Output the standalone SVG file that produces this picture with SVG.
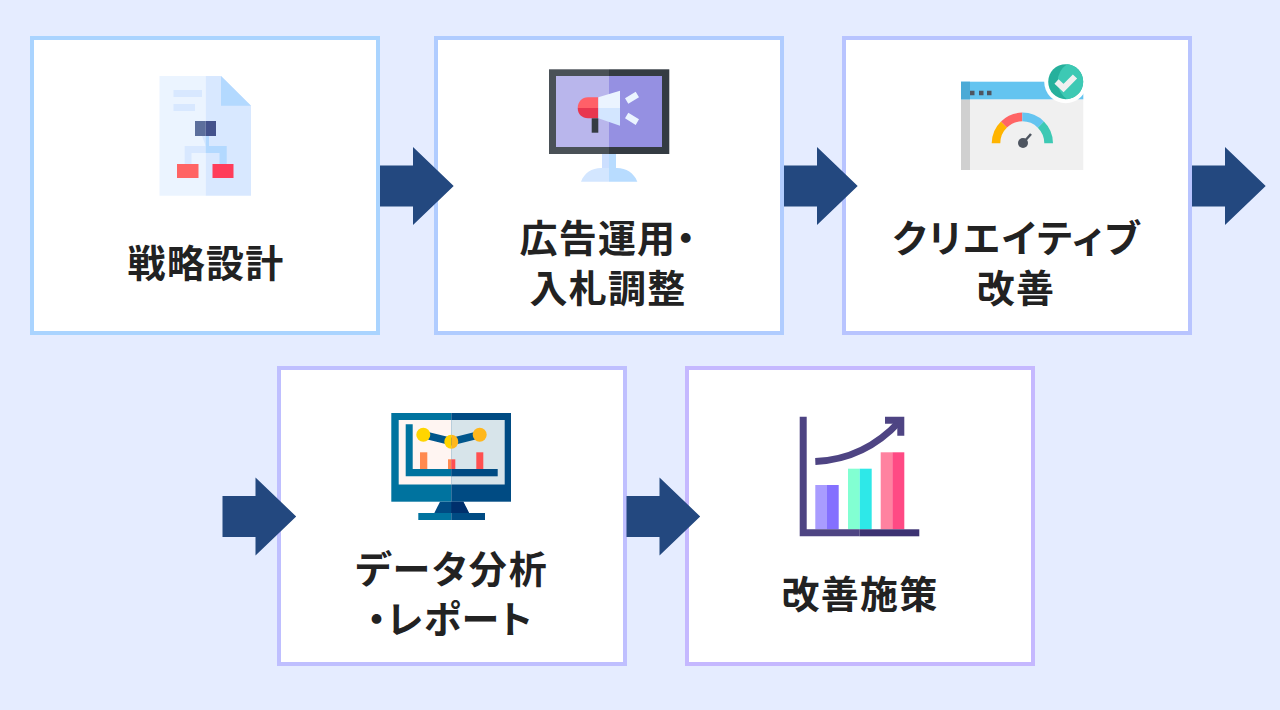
<svg xmlns="http://www.w3.org/2000/svg" width="1280" height="710" viewBox="0 0 1280 710">
<style>
.box{fill:#fff;stroke-width:4}
.t{font-family:"Noto Sans CJK JP","Noto Sans CJK SC",sans-serif;font-weight:700;font-size:38px;font-feature-settings:"palt";letter-spacing:1.2px;fill:#222;text-anchor:middle}
.k{letter-spacing:2px}
.arr{fill:#23487f}
</style>
<defs>
<path id="arrow" class="arr" d="M0 -20.500H33V-39L73.700 0L33 39V20.500H0Z"/>
</defs>
<rect width="1280" height="710" fill="#e5ecff"/>
<g id="node-strategy">
<rect class="box" x="32" y="38" width="346" height="295" stroke="#aad4ff"/>
<path fill="#ebf4ff" d="M159.500 76H205.700V195.700H159.500Z"/>
<path fill="#d8e8ff" d="M205.700 76H221L251 105.700V195.700H205.700Z"/>
<path fill="#b3d9ff" d="M221 76L251 105.700H221Z"/>
<path fill="#d8e8ff" d="M173.500 90H202V97H173.500ZM173.500 104H195V111H173.500Z"/>
<path fill="#d8e8ff" d="M202 136H205.700V146H184.700V164H191.500V153H205.700V146Z"/>
<path fill="#b3d9ff" d="M205.700 136H209V146H226.700V164H219.500V153H205.700Z"/>
<rect x="195" y="121" width="10.700" height="15" fill="#5c6f9c"/>
<rect x="205.700" y="121" width="10.300" height="15" fill="#43528c"/>
<rect x="177" y="164" width="21.500" height="14" fill="#ff6464"/>
<rect x="212.500" y="164" width="21" height="14" fill="#ff3d5a"/>
<text class="t" x="206" y="277">戦略設計</text>
</g>
<g id="node-ads">
<rect class="box" x="436" y="38" width="346" height="295" stroke="#b0ccff"/>
<rect x="549" y="69.300" width="60" height="84.700" fill="#4a5157"/>
<rect x="609" y="69.300" width="60.300" height="84.700" fill="#343b42"/>
<rect x="556" y="76" width="53" height="71" fill="#b9b6ec"/>
<rect x="609" y="76" width="53" height="71" fill="#9590e2"/>
<path fill="#ccdfff" d="M602 154H609V168H602Z"/>
<path fill="#b8dcff" d="M609 154H616V168H609Z"/>
<path fill="#d3e6ff" d="M581 181.700C584 173 592 168 601 168H609V181.700Z"/>
<path fill="#b8dcff" d="M637.300 181.700C634 173 626 168 617 168H609V181.700Z"/>
<path fill="#ff6068" d="M598.300 97.300H588C582 97.300 577.700 102 577.700 108H598.300Z"/>
<path fill="#e8364f" d="M598.300 118.300H588C582 118.300 577.700 114 577.700 108H598.300Z"/>
<rect x="591.700" y="118.300" width="6.600" height="14.400" fill="#343b42"/>
<path fill="#ebf4ff" d="M598.300 97.300L620 90.700V108H598.300Z"/>
<path fill="#d3e6ff" d="M598.300 118.300L620 125.700V108H598.300Z"/>
<path fill="#ebf4ff" d="M625 98.300L635.700 91.700L639 97.300L628.300 103.700ZM625 118.300L628.300 112.700L639 119.300L635.700 125Z"/>
<text class="t" x="608" y="252">広告運用・</text>
<text class="t" x="608" y="302">入札調整</text>
</g>
<g id="node-creative">
<rect class="box" x="844" y="38" width="346" height="295" stroke="#b8c4ff"/>
<rect x="961" y="99.300" width="122.300" height="70.700" fill="#f0f0f0"/>
<rect x="961" y="99.300" width="9" height="70.700" fill="#d0d0d0"/>
<rect x="961" y="81.700" width="122.300" height="17.600" fill="#64c4f0"/>
<rect x="961" y="81.700" width="9" height="17.600" fill="#4baad6"/>
<path fill="#4e5560" d="M970 90.700h4.500v4.500H970ZM979 90.700h4.500v4.500H979ZM987 90.700h4.500v4.500H987Z"/>
<circle cx="1065.700" cy="81.700" r="21.500" fill="#fff"/>
<circle cx="1065.700" cy="81.700" r="17.500" fill="#26b09c"/>
<path fill="#3dc9b4" d="M1067 64.250A17.500 17.500 0 0 1 1067 99.150A21 21 0 0 1 1067 64.250Z"/>
<path fill="none" stroke="#f0f0f0" stroke-width="6" d="M1056.500 81.500L1063.500 88L1075 76.500"/>
<path fill="#ffb400" d="M991.700 143.300A30.700 30.700 0 0 1 1001 121.400L1007 127.600A22 22 0 0 0 1000.300 143.300Z"/>
<path fill="#ff6464" d="M1001 121.400A30.700 30.700 0 0 1 1022.300 112.600V121.300A22 22 0 0 0 1007 127.600Z"/>
<path fill="#64c4f0" d="M1022.300 112.600A30.700 30.700 0 0 1 1043.900 121.500L1037.800 127.700A22 22 0 0 0 1022.300 121.300Z"/>
<path fill="#3dc9b4" d="M1043.900 121.500A30.700 30.700 0 0 1 1053 143.300H1044.300A22 22 0 0 0 1037.800 127.700Z"/>
<circle cx="1023" cy="143" r="5" fill="#4e5560"/>
<path stroke="#4e5560" stroke-width="2.500" d="M1023 143L1031 134"/>
<text class="t k" x="1017" y="252">クリエイティブ</text>
<text class="t" x="1016" y="302">改善</text>
</g>
<g id="node-analysis">
<rect class="box" x="279" y="368" width="346" height="296" stroke="#bfbfff"/>
<rect x="391.300" y="413" width="60" height="88.700" fill="#00739f"/>
<rect x="451.300" y="413" width="59.700" height="88.700" fill="#004b83"/>
<rect x="398.700" y="420" width="52.600" height="64.500" fill="#fff5f2"/>
<rect x="451.300" y="420" width="53.400" height="64.500" fill="#d7e4ea"/>
<path fill="#004b83" d="M440 501.700H463.300L469 513H434.300Z"/>
<path fill="#002f6c" d="M451.300 501.700H463.300L469 513H451.300Z"/>
<rect x="418.300" y="513" width="33" height="7" fill="#00739f"/>
<rect x="451.300" y="513" width="33.700" height="7" fill="#004b83"/>
<path fill="#00739f" d="M405.700 424.300H412.700V469H451.300V476.300H405.700Z"/>
<rect x="451.300" y="469" width="46.400" height="7.300" fill="#004b83"/>
<rect x="420" y="452.300" width="7.300" height="16.700" fill="#ff8a50"/>
<rect x="448" y="459.300" width="3.300" height="9.700" fill="#ff8a50"/>
<rect x="451.300" y="459.300" width="4" height="9.700" fill="#ff5050"/>
<rect x="476.300" y="452.300" width="7" height="16.700" fill="#ff5050"/>
<path fill="none" stroke="#00568c" stroke-width="7.500" d="M423.300 434.700L451.700 441.700L479.700 434.700"/>
<circle cx="423.300" cy="434.700" r="7" fill="#ffd500"/>
<path fill="#ffd500" d="M451.300 434.700A7 7 0 0 0 451.300 448.700Z"/>
<path fill="#ffb71c" d="M451.300 434.700A7 7 0 0 1 451.300 448.700Z"/>
<circle cx="479.700" cy="434.700" r="7" fill="#ffb71c"/>
<text class="t k" x="452" y="583">データ分析</text>
<text class="t" x="450" y="633">・レポート</text>
</g>
<g id="node-improve">
<rect class="box" x="687" y="368" width="346" height="296" stroke="#c5b8ff"/>
<rect x="815.300" y="485" width="11.700" height="44.300" fill="#a99cff"/>
<rect x="827" y="485" width="11.700" height="44.300" fill="#8470ff"/>
<rect x="848" y="468.700" width="11.700" height="60.600" fill="#82ffd2"/>
<rect x="859.700" y="468.700" width="12" height="60.600" fill="#2ee8e8"/>
<rect x="880.700" y="452.300" width="11.600" height="77" fill="#ff82a0"/>
<rect x="892.300" y="452.300" width="12" height="77" fill="#ff4a84"/>
<path fill="#4e4483" d="M799.700 416.700H806.700V529.300H859.700V536.300H799.700Z"/>
<rect x="859.700" y="529.300" width="59.600" height="7" fill="#3c3272"/>
<path fill="none" stroke="#4e4483" stroke-width="7" d="M815.300 461.500C850 460 877 446 900 421"/>
<path fill="#4e4483" d="M885 416.700H904.300V435.700H897.300V423.700H885Z"/>
<text class="t" x="860" y="608">改善施策</text>
</g>
<g id="connectors">
<use href="#arrow" x="380" y="186"/>
<use href="#arrow" x="784" y="186"/>
<use href="#arrow" x="1192" y="186"/>
<use href="#arrow" x="222.500" y="516.500"/>
<use href="#arrow" x="626.500" y="516.500"/>
</g>
</svg>
